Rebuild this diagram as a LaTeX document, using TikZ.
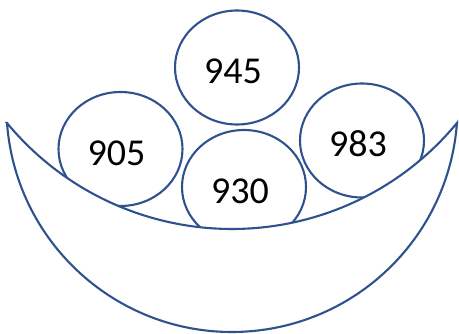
\documentclass[tikz,border=0pt]{standalone}
\usepackage{fontspec}
\setmainfont{Carlito}
\usetikzlibrary{shapes.geometric}
\definecolor{bowlblue}{HTML}{2F528F}
\tikzset{
  egg/.style={ellipse, draw=bowlblue, line width=2.1pt, fill=white,
    minimum width=124pt, minimum height=114pt, inner sep=0pt,
    font=\fontsize{38pt}{42pt}\selectfont, text height=33pt, text depth=0pt,
    execute at begin node={\kern-8pt}},
  bowl/.style={draw=bowlblue, line width=2.1pt, fill=white, line join=miter}
}
\begin{document}
\begin{tikzpicture}[x=1pt,y=1pt]
\useasboundingbox (0,0) rectangle (459,-334);
\node[egg] (e945) at (237,-67.5) {945};
\node[egg] (e905) at (120.5,-149) {905};
\node[egg] (e930) at (244,-187) {930};
\node[egg] (e983) at (362,-140.5) {983};
\coordinate (lt) at (7,-123);
\draw[bowl] (lt) arc[start angle=184.22, end angle=355.78, radius=225.6]
  arc[start angle=-39.55, end angle=-140.45, radius=291.8] -- cycle;
\end{tikzpicture}
\end{document}
